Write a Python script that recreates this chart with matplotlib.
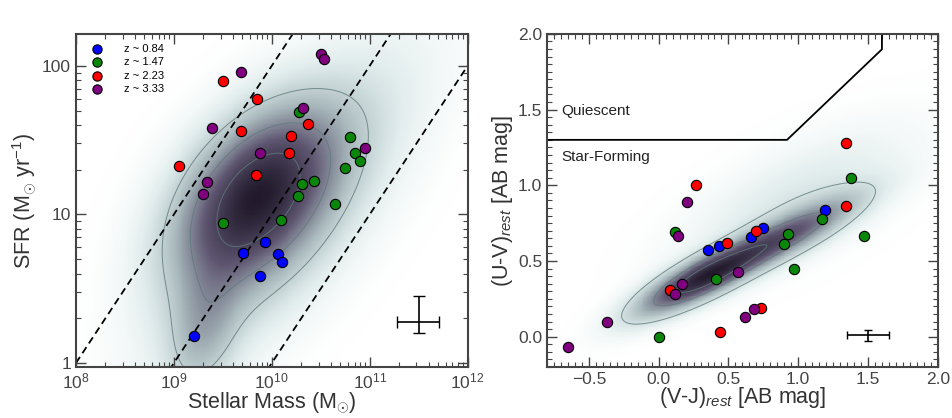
import numpy as np
import matplotlib
matplotlib.use("Agg")
import matplotlib.pyplot as plt
from matplotlib.colors import LinearSegmentedColormap
from matplotlib.ticker import LogLocator, MultipleLocator, FixedLocator

plt.rcParams['font.family'] = ['Liberation Sans', 'DejaVu Sans']
plt.rcParams['mathtext.fontset'] = 'custom'
plt.rcParams['mathtext.rm'] = 'Liberation Sans'
plt.rcParams['mathtext.it'] = 'Liberation Sans:italic'

# --- data ---
labels = ["z ~ 0.84", "z ~ 1.47", "z ~ 2.23", "z ~ 3.33"]
colors = ["#0000ff", "#0a860a", "#ff0000", "#800080"]

# left panel: stellar mass and SFR
mass_084 = [1.62e9, 5.1e9, 8.5e9, 1.15e10, 1.26e10, 7.6e9]
sfr_084 = [1.52, 5.5, 6.5, 5.4, 4.8, 3.85]
mass_147 = [1.9e10, 6.3e10, 7.1e10, 7.9e10, 5.6e10, 2.7e10, 2.05e10, 1.86e10, 4.4e10, 1.23e10, 3.16e9]
sfr_147 = [49, 33, 26, 23, 20.4, 16.9, 15.9, 13.4, 11.7, 9.2, 8.8]
mass_223 = [3.16e9, 7.1e9, 4.9e9, 2.35e10, 1.58e10, 1.51e10, 6.9e9, 1.12e9]
sfr_223 = [79, 60, 36.6, 40.3, 33.6, 26, 18.3, 21.2]
mass_333 = [3.2e10, 3.4e10, 4.8e9, 2.1e10, 2.45e9, 7.6e9, 8.9e10, 2.2e9, 2.0e9]
sfr_333 = [120, 111, 91, 52, 38, 25.7, 27.8, 16.4, 13.7]

# right panel: rest-frame colours
vj_084 = [0.35, 0.43, 0.66, 0.75, 1.19]
uv_084 = [0.57, 0.60, 0.66, 0.72, 0.84]
vj_147 = [0.12, 1.38, 1.47, 1.17, 0.93, 0.90, 0.97, 0.41, 0.0]
uv_147 = [0.69, 1.05, 0.665, 0.775, 0.68, 0.61, 0.45, 0.38, 0.0]
vj_223 = [0.27, 0.49, 0.70, 1.34, 1.34, 0.08, 0.73, 0.44]
uv_223 = [1.00, 0.62, 0.70, 1.28, 0.86, 0.31, 0.19, 0.03]
vj_333 = [0.20, 0.14, 0.57, 0.17, 0.115, 0.68, 0.62, -0.37, -0.65]
uv_333 = [0.89, 0.665, 0.43, 0.35, 0.28, 0.18, 0.13, 0.10, -0.07]

# UVJ selection boundary
uvj_x = [-0.8, 0.92, 1.6, 1.6]
uvj_y = [1.3, 1.3, 1.898, 2.0]

# specific SFR lines (log sSFR)
ssfr_lines = [-8, -9, -10]

# density background components (log M, log SFR)
left_cx = [9.80, 9.30, 10.2]
left_cy = [1.13, 0.20, 1.05]
left_sx = [0.55, 0.25, 0.85]
left_sy = [0.40, 0.30, 0.70]
left_rho = [0.45, 0.3, 0.75]
left_w = [1.0, 0.30, 0.30]

# density background components (V-J, U-V)
right_cx = [0.30, 0.95, 1.0]
right_cy = [0.38, 0.68, 0.90]
right_sa = [0.34, 0.37, 0.6]
right_sp = [0.085, 0.085, 0.22]
right_w = [1.0, 0.6, 0.16]
right_ang = 25.0

cmap = LinearSegmentedColormap.from_list(
    "dens", [(0, "#ffffff"), (0.12, "#e0ecec"), (0.35, "#a6b6ba"),
             (0.65, "#5f5772"), (1.0, "#221a2c")])


def gauss2d(X, Y, cx, cy, sx, sy, rho):
    dx = (X - cx) / sx
    dy = (Y - cy) / sy
    return np.exp(-(dx**2 - 2 * rho * dx * dy + dy**2) / (2 * (1 - rho**2)))


fig = plt.figure(figsize=(9.53, 4.18), dpi=100)
ax1 = fig.add_axes([0.0797, 0.122, 0.411, 0.797])
ax2 = fig.add_axes([0.574, 0.122, 0.410, 0.797])

# ---------- left panel ----------
ymin, ymax = 0.94, 164
lx = np.linspace(8, 12, 400)
ly = np.linspace(np.log10(ymin), np.log10(ymax), 400)
LX, LY = np.meshgrid(lx, ly)
Z = sum(w * gauss2d(LX, LY, cx, cy, sx, sy, r)
        for cx, cy, sx, sy, r, w in zip(left_cx, left_cy, left_sx, left_sy, left_rho, left_w))
Z = Z / Z.max()
ax1.pcolormesh(10**LX, 10**LY, Z, cmap=cmap, shading="auto", vmin=0, vmax=1, rasterized=True)
ax1.contour(10**LX, 10**LY, Z, levels=[0.24, 0.5, 0.78], colors="#5d7a7a", linewidths=0.7, alpha=0.8)

mline = np.array([1e8, 1e12])
for k in ssfr_lines:
    ax1.plot(mline, mline * 10.0**k, "k--", lw=1.3, dashes=(4, 2.5))

groups_l = [(mass_084, sfr_084), (mass_147, sfr_147), (mass_223, sfr_223), (mass_333, sfr_333)]
for (m, s), c, lab in zip(groups_l, colors, labels):
    ax1.scatter(m, s, s=55, c=c, edgecolors="black", linewidths=0.8, label=lab, zorder=5)

ax1.errorbar([3.2e11], [1.9], xerr=[[3.2e11 - 1.9e11], [5.1e11 - 3.2e11]],
             yerr=[[1.9 - 1.59], [2.82 - 1.9]], fmt="none", ecolor="black", elinewidth=1.2, capsize=4)

ax1.set_xscale("log")
ax1.set_yscale("log")
ax1.set_xlim(1e8, 1e12)
ax1.set_ylim(ymin, ymax)
ax1.yaxis.set_major_locator(FixedLocator([1, 10, 100]))
ax1.set_yticklabels(["1", "10", "100"])
ax1.xaxis.set_major_locator(LogLocator(base=10, numticks=10))
ax1.xaxis.set_minor_locator(LogLocator(base=10, subs=np.arange(2, 10), numticks=20))
ax1.yaxis.set_minor_locator(LogLocator(base=10, subs=np.arange(2, 10), numticks=20))
ax1.set_xlabel(r"Stellar Mass (M$_{\odot}$)", fontsize=15.5, color="#333333", labelpad=-1)
ax1.set_ylabel(r"SFR (M$_{\odot}$ yr$^{-1}$)", fontsize=15.5, color="#333333", labelpad=2)
ax1.legend(loc="upper left", frameon=False, fontsize=8, handletextpad=1.4,
           borderaxespad=0.5, labelspacing=0.3, markerscale=0.9)

# ---------- right panel ----------
rx = np.linspace(-0.8, 2.0, 400)
ry = np.linspace(-0.2, 2.0, 400)
RX, RY = np.meshgrid(rx, ry)
th = np.deg2rad(right_ang)
Z2 = np.zeros_like(RX)
for cx, cy, sa, sp, w in zip(right_cx, right_cy, right_sa, right_sp, right_w):
    a = (RX - cx) * np.cos(th) + (RY - cy) * np.sin(th)
    p = -(RX - cx) * np.sin(th) + (RY - cy) * np.cos(th)
    Z2 += w * np.exp(-0.5 * ((a / sa)**2 + (p / sp)**2))
Z2 = Z2 / Z2.max()
ax2.pcolormesh(RX, RY, Z2, cmap=cmap, shading="auto", vmin=0, vmax=1, rasterized=True)
ax2.contour(RX, RY, Z2, levels=[0.17, 0.5, 0.8], colors="#5d7a7a", linewidths=0.7, alpha=0.8)

ax2.plot(uvj_x, uvj_y, color="black", lw=1.3)
ax2.text(-0.7, 1.49, "Quiescent", fontsize=11, color="#222222", va="center")
ax2.text(-0.7, 1.19, "Star-Forming", fontsize=11, color="#222222", va="center")

groups_r = [(vj_084, uv_084), (vj_147, uv_147), (vj_223, uv_223), (vj_333, uv_333)]
for (x, y), c in zip(groups_r, colors):
    ax2.scatter(x, y, s=55, c=c, edgecolors="black", linewidths=0.8, zorder=5)

ax2.errorbar([1.5], [0.01], xerr=[0.15], yerr=[0.035], fmt="none", ecolor="black",
             elinewidth=1.2, capsize=3)

ax2.set_xlim(-0.8, 2.0)
ax2.set_ylim(-0.2, 2.0)
ax2.xaxis.set_major_locator(MultipleLocator(0.5))
ax2.yaxis.set_major_locator(MultipleLocator(0.5))
ax2.xaxis.set_minor_locator(MultipleLocator(0.05))
ax2.yaxis.set_minor_locator(MultipleLocator(0.05))
ax2.set_xlabel(r"(V-J)$_{rest}$ [AB mag]", fontsize=15.5, color="#333333", labelpad=-1)
ax2.set_ylabel(r"(U-V)$_{rest}$ [AB mag]", fontsize=15.5, color="#333333", labelpad=2)

for ax in (ax1, ax2):
    ax.tick_params(which="both", direction="in", top=True, right=True, colors="#444444",
                   labelsize=12.5, labelcolor="#444444")
    ax.tick_params(which="major", length=7, width=1)
    ax.tick_params(which="minor", length=3.5, width=0.8)
    for sp in ax.spines.values():
        sp.set_color("#444444")
        sp.set_linewidth(1.5)

fig.savefig("out.png", dpi=100)
